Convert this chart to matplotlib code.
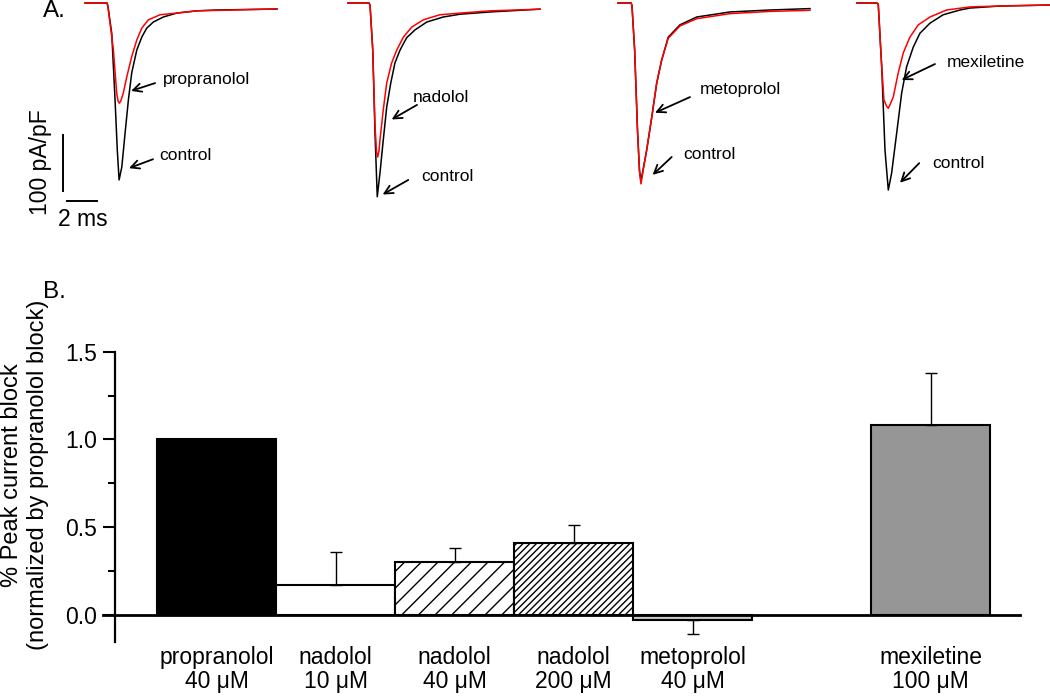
import numpy as np
import matplotlib
matplotlib.use("Agg")
import matplotlib.pyplot as plt

plt.rcParams['font.family'] = ['Liberation Sans', 'DejaVu Sans']

# ---- Panel A: Na current traces (time in ms from trace start, current in pA/pF)
# propranolol
prop_ctrl_t = [0, 1.47, 1.53, 1.78, 2.0, 2.15, 2.27, 2.45, 2.67, 2.89, 3.11, 3.45, 3.78, 4.11, 4.55, 5.22, 6.11, 7.45, 8.8, 12.8]
prop_ctrl_i = [0, 0, -7, -54, -173, -263, -316, -293, -232, -173, -125, -84, -61, -45, -34, -25, -18, -14, -12.5, -10.7]
prop_drug_t = [0, 1.47, 1.53, 1.89, 2.11, 2.2, 2.29, 2.38, 2.55, 2.78, 3.11, 3.45, 3.78, 4.22, 5.0, 6.11, 7.45, 12.8]
prop_drug_i = [0, 0, -7, -84, -161, -175, -179, -175, -161, -132, -96, -66, -45, -30, -21, -18, -14, -10.7]
# nadolol
nad_ctrl_t = [0, 1.4, 1.47, 1.65, 1.8, 1.95, 2.13, 2.35, 2.58, 2.85, 3.13, 3.47, 3.91, 4.47, 5.25, 6.35, 7.47, 9.47, 12.8]
nad_ctrl_i = [0, 0, -4, -84, -232, -346, -304, -245, -186, -143, -107, -84, -62, -48, -34, -25, -20, -16, -11]
nad_drug_t = [0, 1.4, 1.47, 1.65, 1.8, 1.9, 1.98, 2.07, 2.13, 2.35, 2.58, 2.91, 3.25, 3.69, 4.25, 5.02, 6.13, 7.47, 9.47, 12.8]
nad_drug_i = [0, 0, -4, -84, -218, -266, -275, -263, -245, -191, -143, -107, -84, -61, -43, -30, -21, -18, -14, -11]
# metoprolol
met_ctrl_t = [0, 0.87, 0.93, 1.11, 1.3, 1.43, 1.53, 1.67, 1.91, 2.25, 2.58, 2.91, 3.35, 4.13, 5.25, 7.47, 10.13, 12.8]
met_ctrl_i = [0, 0, -4, -84, -227, -298, -318, -298, -263, -204, -143, -102, -61, -39, -25, -16, -12.5, -10]
met_drug_t = [0, 0.87, 0.93, 1.11, 1.3, 1.43, 1.53, 1.67, 1.91, 2.25, 2.58, 2.91, 3.35, 4.13, 5.25, 7.47, 10.13, 12.8]
met_drug_i = [0, 0, -4, -84, -227, -300, -323, -300, -263, -204, -143, -102, -63, -41, -28, -19, -15, -13]
# mexiletine
mex_ctrl_t = [0, 1.33, 1.42, 1.65, 1.87, 2.09, 2.31, 2.65, 2.98, 3.31, 3.75, 4.2, 4.87, 5.75, 6.87, 7.53, 9.53, 12.87]
mex_ctrl_i = [0, 0, -2, -114, -263, -334, -304, -232, -161, -114, -79, -54, -36, -21, -12.5, -9, -5.4, -3.6]
mex_drug_t = [0, 1.33, 1.42, 1.65, 1.8, 1.97, 2.09, 2.23, 2.42, 2.75, 3.09, 3.53, 4.09, 4.87, 5.98, 7.53, 9.53, 12.87]
mex_drug_i = [0, 0, -2, -114, -173, -184, -188, -180, -168, -125, -89, -61, -39, -25, -12.5, -7, -5.4, -3.6]

drug_names = ['propranolol', 'nadolol', 'metoprolol', 'mexiletine']

# ---- Panel B: normalized peak block
bar_labels = ['propranolol\n40 \u03bcM', 'nadolol\n10 \u03bcM', 'nadolol\n40 \u03bcM',
              'nadolol\n200 \u03bcM', 'metoprolol\n40 \u03bcM', 'mexiletine\n100 \u03bcM']
block = [1.0, 0.17, 0.30, 0.41, -0.03, 1.08]
block_sem = [0.0, 0.19, 0.08, 0.10, 0.08, 0.30]


fig = plt.figure(figsize=(10.5, 6.98), dpi=100)

# trace panel: 15 px per ms, 0.56 px per pA/pF
axA = fig.add_axes([0, 1 - 230 / 698, 1, 230 / 698])
axA.set_xlim(0, 70)
axA.set_ylim(-405.4, 5.36)
axA.axis('off')

panel_start = [5.67, 23.2, 41.2, 57.13]
traces = [
    (prop_ctrl_t, prop_ctrl_i, prop_drug_t, prop_drug_i),
    (nad_ctrl_t, nad_ctrl_i, nad_drug_t, nad_drug_i),
    (met_ctrl_t, met_ctrl_i, met_drug_t, met_drug_i),
    (mex_ctrl_t, mex_ctrl_i, mex_drug_t, mex_drug_i),
]
for start, (ct, ci, dt, di) in zip(panel_start, traces):
    axA.plot(np.array(ct) + start, ci, color='black', lw=1.1, solid_joinstyle='round')
    axA.plot(np.array(dt) + start, di, color='#ff0000', lw=1.1, solid_joinstyle='round')

# arrow labels: (text pos, arrow tail, arrow head) in panel coordinates
drug_arrows = [((5.07, -137.5), (4.67, -143), (3.07, -157)),
               ((4.2, -168), (4.6, -182), (2.91, -208)),
               ((5.33, -155), (4.8, -168), (2.47, -196)),
               ((5.87, -107), (5.2, -109), (2.98, -137.5))]
ctrl_arrows = [((4.87, -273), (4.53, -279), (2.93, -295)),
               ((4.76, -310), (4.02, -316), (2.31, -342)),
               ((4.27, -271), (3.58, -275), (2.31, -307)),
               ((4.93, -286), (4.15, -286), (2.87, -321))]
arrowprops = dict(arrowstyle='->', lw=1.3, color='black', mutation_scale=15,
                  shrinkA=0, shrinkB=0)
for start, name, da, ca in zip(panel_start, drug_names, drug_arrows, ctrl_arrows):
    for lab, (txt, tail, head) in [(name, da), ('control', ca)]:
        axA.annotate('', xy=(head[0] + start, head[1]), xytext=(tail[0] + start, tail[1]),
                     arrowprops=arrowprops)
        axA.text(txt[0] + start + 0.1, txt[1], lab, fontsize=12.5, ha='left', va='center')

# scale bars
axA.plot([4.2, 4.2], [-236, -336], color='black', lw=1.4)
axA.plot([4.47, 6.47], [-353.6, -353.6], color='black', lw=1.4)
axA.text(2.67, -285, '100 pA/pF', rotation=90, fontsize=16.5, ha='center', va='center')
axA.text(5.5, -387, '2 ms', fontsize=16.5, ha='center', va='center')

fig.text(43 / 1050, 1 - 11 / 698, 'A.', fontsize=17.5, ha='left', va='center')
fig.text(43 / 1050, 1 - 292 / 698, 'B.', fontsize=17.5, ha='left', va='center')

# bar panel
axB = fig.add_axes([115 / 1050, 1 - 641.7 / 698, 905 / 1050, 290 / 698])
positions = [0, 1, 2, 3, 4, 6]
fills = ['black', 'white', 'white', 'white', '#c8c8c8', '#969696']
hatches = [None, None, '//', '/////', None, None]
plt.rcParams['hatch.linewidth'] = 1.0
bars = axB.bar(positions, block, width=1.0, color=fills, edgecolor='black', linewidth=1.5, zorder=2)
for b, h in zip(bars, hatches):
    if h:
        b.set_hatch(h)

for p, v, s in zip(positions, block, block_sem):
    if s <= 0:
        continue
    lo, hi = (s, 0) if v < 0 else (0, s)
    axB.errorbar(p, v, yerr=[[lo], [hi]], fmt='none', ecolor='black', elinewidth=1.0,
                 capsize=4.5, capthick=1.0, zorder=3)

axB.axhline(0, xmin=-12 / 905, xmax=1, color='black', lw=2, clip_on=False, zorder=4)
axB.set_xlim(-0.853, 6.752)
axB.set_ylim(-0.153, 1.5)
for side in ['top', 'right', 'bottom']:
    axB.spines[side].set_visible(False)
axB.spines['left'].set_linewidth(1.6)

axB.set_yticks([0, 0.5, 1.0, 1.5])
axB.set_yticklabels(['0.0', '0.5', '1.0', '1.5'])
axB.set_yticks([0.25, 0.75, 1.25], minor=True)
axB.tick_params(axis='y', which='major', length=8.6, width=1.5, direction='out', labelsize=16.5, pad=4)
axB.tick_params(axis='y', which='minor', length=5, width=1.5, direction='out')
axB.set_xticks(positions)
axB.set_xticklabels(bar_labels)
axB.tick_params(axis='x', length=0, labelsize=16.5, pad=3)
for lbl in axB.get_xticklabels():
    lbl.set_linespacing(1.05)

fig.text(25 / 1050, 1 - 475 / 698, '% Peak current block\n(normalized by propranolol block)',
         rotation=90, fontsize=17, ha='center', va='center', multialignment='center')

fig.savefig('out.png', dpi=100)
